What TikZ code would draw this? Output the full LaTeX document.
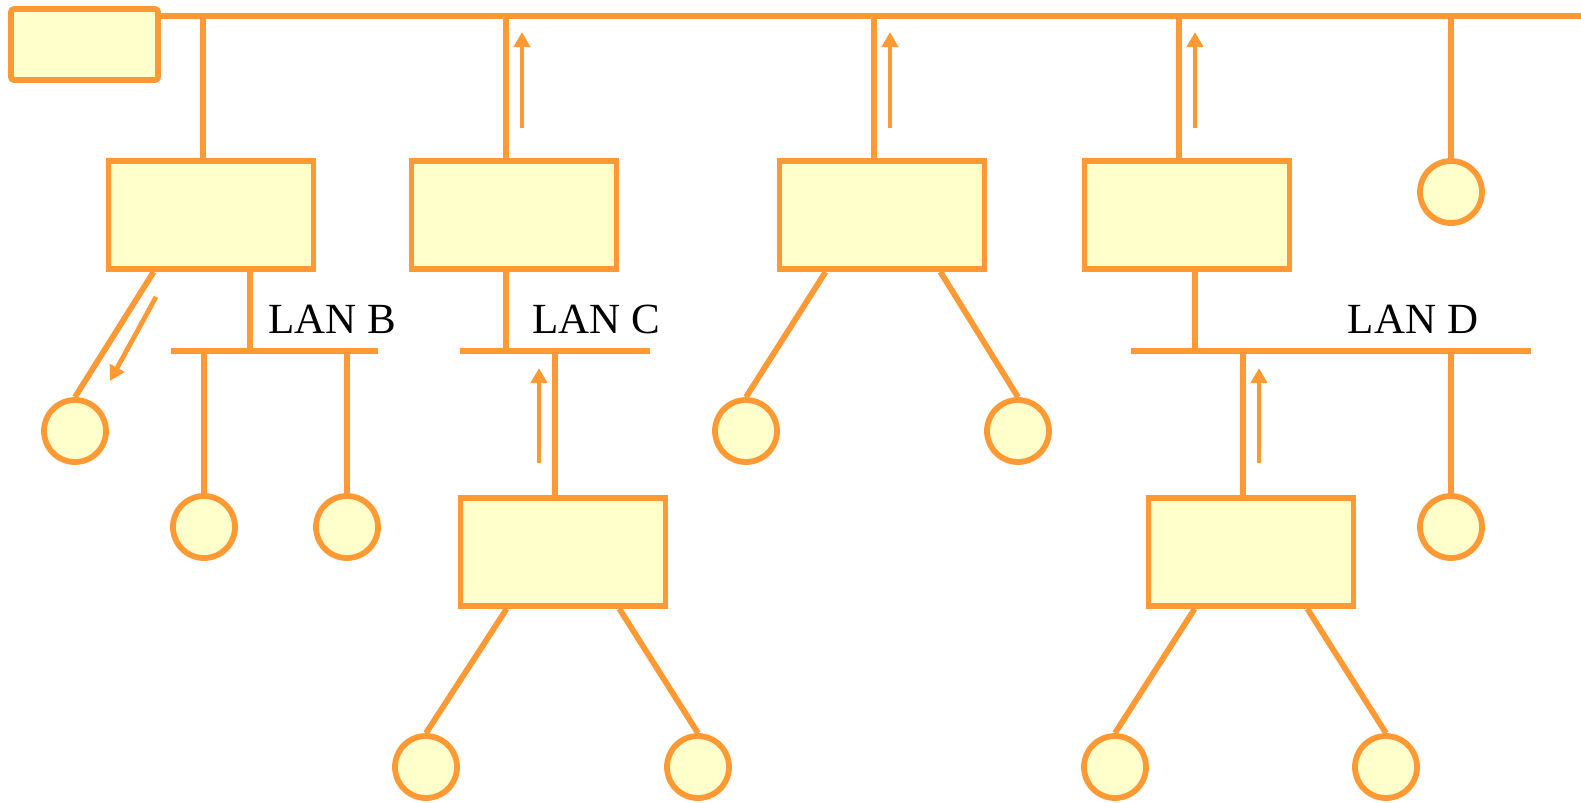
\documentclass[tikz,border=0pt]{standalone}
\usepackage{fontspec}
\setmainfont{Liberation Serif}
\usetikzlibrary{arrows.meta,calc}
\definecolor{lanorange}{RGB}{255,153,51}
\definecolor{cream}{RGB}{255,255,204}
\tikzset{
  >={Triangle[length=7.5pt,width=8pt]},
  wire/.style={draw=lanorange,line width=2.9pt},
  bridge/.style={wire,fill=cream,minimum width=102.5pt,minimum height=54pt,inner sep=0pt},
  station/.style={wire,fill=cream,circle,minimum size=31pt,inner sep=0pt},
  flow/.style={->,draw=lanorange,line width=2.4pt},
  lan/.style={font=\fontsize{21.5}{26}\selectfont,anchor=base},
}
\begin{document}
\begin{tikzpicture}[x=0.5pt,y=-0.5pt]
  \useasboundingbox (0,0) rectangle (1581,803);
  \coordinate (bus) at (0,16);
  \coordinate (lan) at (0,351);
  % backbone and bridges
  \node[bridge,rounded corners=1.5pt,minimum width=73.5pt,minimum height=35.5pt] (hub) at (84.5,44.5) {};
  \node[bridge] (brB) at (211,215) {};
  \node[bridge] (brC) at (514,215) {};
  \node[bridge] (brM) at (882,215) {};
  \node[bridge] (brD) at (1187,215) {};
  \node[bridge] (brC2) at (563,552) {};
  \node[bridge] (brD2) at (1251,552) {};
  % stations
  \node[station] (s1) at (75,431) {};
  \node[station] (s2) at (204,527) {};
  \node[station] (s3) at (347,527) {};
  \node[station] (s4) at (746,431) {};
  \node[station] (s5) at (1018,431) {};
  \node[station] (s6) at (1451,192) {};
  \node[station] (s7) at (1451,527) {};
  \node[station] (s8) at (426,767) {};
  \node[station] (s9) at (698,767) {};
  \node[station] (s10) at (1115,767) {};
  \node[station] (s11) at (1386,767) {};
  % lan segments
  \coordinate (lanB-w) at (171,351);  \coordinate (lanB-e) at (378,351);
  \coordinate (lanC-w) at (460,351);  \coordinate (lanC-e) at (650,351);
  \coordinate (lanD-w) at (1131,351); \coordinate (lanD-e) at (1531,351);
  \coordinate (bus-e) at (1581,16);
  \draw[wire] (hub.east |- bus) -- (bus-e);
  \draw[wire] (lanB-w) -- (lanB-e);
  \draw[wire] (lanC-w) -- (lanC-e);
  \draw[wire] (lanD-w) -- (lanD-e);
  % taps
  \foreach \b in {brB,brC,brM,brD}
    \draw[wire] ([xshift=-4pt]\b.north) -- ([xshift=-4pt]\b.north |- bus);
  \draw[wire] (s6) -- (s6 |- bus);
  \draw[wire] ([xshift=19.5pt]brB.south) -- ([xshift=19.5pt]brB.south |- lan);
  \draw[wire] ([xshift=-4pt]brC.south) -- ([xshift=-4pt]brC.south |- lan);
  \draw[wire] ([xshift=4pt]brD.south) -- ([xshift=4pt]brD.south |- lan);
  \draw[wire] ([xshift=-4pt]brC2.north) -- ([xshift=-4pt]brC2.north |- lan);
  \draw[wire] ([xshift=-4pt]brD2.north) -- ([xshift=-4pt]brD2.north |- lan);
  \foreach \s in {s2,s3,s7}
    \draw[wire] (\s) -- (\s |- lan);
  % local stations
  \draw[wire] ($(brB.south west)+(48,0)$) -- (s1.north);
  \draw[wire] ($(brM.south west)+(49,0)$) -- (s4.north);
  \draw[wire] ($(brM.south east)+(-47,0)$) -- (s5.north);
  \draw[wire] ($(brC2.south west)+(49,0)$) -- (s8.north);
  \draw[wire] ($(brC2.south east)+(-49,0)$) -- (s9.north);
  \draw[wire] ($(brD2.south west)+(49,0)$) -- (s10.north);
  \draw[wire] ($(brD2.south east)+(-49,0)$) -- (s11.north);
  % frame flow
  \draw[flow] (156,297) -- (110,381);
  \draw[flow] (522,128) -- (522,32);
  \draw[flow] (890,128) -- (890,32);
  \draw[flow] (1195,128) -- (1195,32);
  \draw[flow] (539,463) -- (539,368);
  \draw[flow] (1259,463) -- (1259,368);
  % labels
  \node[lan] (labB) at (332,333) {LAN B};
  \node[lan] (labC) at (596,333) {LAN C};
  \node[lan] (labD) at (1413,333) {LAN D};
\end{tikzpicture}
\end{document}
